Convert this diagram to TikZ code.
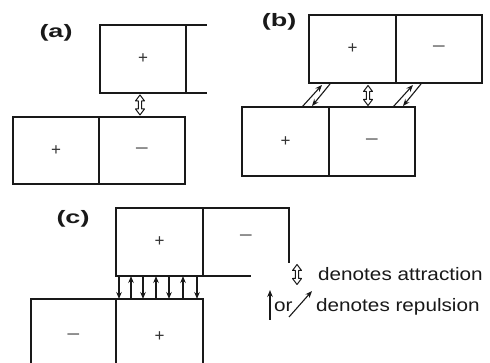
\documentclass[tikz,border=0pt]{standalone}
\usepackage{fontspec}
\setmainfont{Liberation Sans}
\usetikzlibrary{arrows.meta}
\newcommand{\mysign}[1]{{\fontsize{17}{19}\selectfont #1}}
\newcommand{\myminus}{\scalebox{1.6}[1]{\fontsize{15}{17}\selectfont −}}
\newcommand{\mylab}[1]{\scalebox{1.5}[1]{\fontsize{18}{20}\selectfont\bfseries #1}}
\newcommand{\mytxt}[1]{\scalebox{1.15}[1]{\fontsize{18}{20}\selectfont #1}}
\begin{document}
\begin{tikzpicture}[x=1pt,y=-1pt,
  cell/.style={draw=black!90, line width=1.8pt, inner sep=0pt, outer sep=0pt, text=black!80},
  edge/.style={draw=black!90, line width=1.8pt},
  rep/.style={draw=black!90, line width=1.1pt, -{Stealth[length=7pt,width=5.5pt]}},
  attrpic/.pic={\draw[black!90, line width=1pt, fill=white, line join=round]
     (0,-10) -- (4.5,-4) -- (1.6,-4) -- (1.6,4) -- (4.5,4) -- (0,10)
     -- (-4.5,4) -- (-1.6,4) -- (-1.6,-4) -- (-4.5,-4) -- cycle;},
  lab/.style={inner sep=0pt, text=black!90}
]
\useasboundingbox (0,0) rectangle (490,363);
\fill[white] (0,0) rectangle (490,363);

% (a)
\node[lab] (la) at (56,33) {\mylab{(a)}};
\node[cell, minimum width=86pt, minimum height=68pt] (a1) at (143,59) {\mysign{+}};
\draw[edge] (a1.north east) -- ++(21,0);
\draw[edge] (a1.south east) -- ++(21,0);
\node[cell, minimum width=86pt, minimum height=67pt] (a2) at (56,150.5) {\mysign{+}};
\node[cell, minimum width=86pt, minimum height=67pt] (a3) at (142,150.5) {\myminus};
\pic at (140,105) {attrpic};

% (b)
\node[lab] (lb) at (279,22) {\mylab{(b)}};
\node[cell, minimum width=87pt, minimum height=68pt] (b1) at (352.5,49) {\mysign{+}};
\node[cell, minimum width=86pt, minimum height=68pt] (b2) at (439,49) {\myminus};
\node[cell, minimum width=87pt, minimum height=69pt] (b3) at (285.5,141.5) {\mysign{+}};
\node[cell, minimum width=86pt, minimum height=69pt] (b4) at (372,141.5) {\myminus};
\pic at (368,95.5) {attrpic};
\draw[rep] (302,107) -- (322,85);
\draw[rep] (330,84) -- (312,106);
\draw[rep] (393,107) -- (413,85);
\draw[rep] (421,84) -- (403,106);

% (c)
\node[lab] (lc) at (73,219) {\mylab{(c)}};
\node[cell, minimum width=87pt, minimum height=68pt] (c1) at (159.5,242) {\mysign{+}};
\draw[edge] (c1.north east) -- ++(86,0) -- ++(0,55);
\draw[edge] (c1.south east) -- ++(48,0);
\node[text=black!80] (c2) at (246,238) {\myminus};
\node[cell, minimum width=85pt, minimum height=75pt] (c3) at (73.5,336.5) {\myminus};
\node[cell, minimum width=87pt, minimum height=75pt] (c4) at (159.5,336.5) {\mysign{+}};
\foreach \x [count=\i] in {119,131,143,156,169,183,197}{
  \ifodd\i
    \draw[rep] (\x,276) -- (\x,299);
  \else
    \draw[rep] (\x,299) -- (\x,276);
  \fi
}

% legend
\pic at (297,274.5) {attrpic};
\node[lab, anchor=base west] (t1) at (318,281) {\mytxt{denotes attraction}};
\draw[rep] (270,320) -- (270,290);
\node[lab, anchor=base west] (tor) at (274,312) {\mytxt{or}};
\draw[rep] (289,317) -- (312,291);
\node[lab, anchor=base west] (t2) at (316,312) {\mytxt{denotes repulsion}};
\end{tikzpicture}
\end{document}
